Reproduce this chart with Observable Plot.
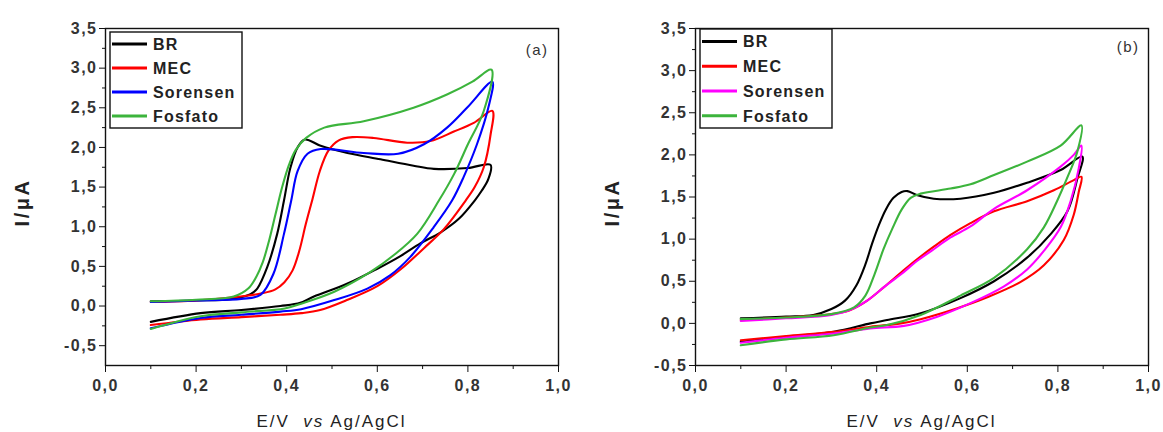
<!DOCTYPE html>
<html><head><meta charset="utf-8">
<script src="https://cdn.jsdelivr.net/npm/d3@7"></script>
<script src="https://cdn.jsdelivr.net/npm/@observablehq/plot@0.6"></script>
<style>
body{margin:0;background:#fff;}
#row{display:flex;width:1163px;height:432px;}
#row svg{display:block;}
</style></head><body><div id="row"></div>
<script>
// ---- data (E/V, I/µA) in scan order: forward then reverse ----
const seriesNames = ["BR", "MEC", "Sorensen", "Fosfato"];
const colorsA = ["#000000", "#ff0000", "#0000ff", "#3cb43c"];
const colorsB = ["#000000", "#ff0000", "#ff00ff", "#3cb43c"];
const xTicks = [0, 0.2, 0.4, 0.6, 0.8, 1.0];
const xMinor = [0.1, 0.3, 0.5, 0.7, 0.9];
const yTicks = [-0.5, 0, 0.5, 1.0, 1.5, 2.0, 2.5, 3.0, 3.5];
const yMinor = [-0.25, 0.25, 0.75, 1.25, 1.75, 2.25, 2.75, 3.25];
const panelLabels = ["(a)", "(b)"];

const aBR = [[0.10,0.06],[0.20,0.07],[0.28,0.09],[0.32,0.15],[0.335,0.22],[0.357,0.49],[0.379,0.91],[0.394,1.33],[0.408,1.74],[0.424,2.0],[0.44,2.1],[0.475,2.02],[0.534,1.93],[0.607,1.85],[0.68,1.77],[0.725,1.73],[0.80,1.74],[0.85,1.78],
  [0.845,1.6],[0.83,1.45],[0.815,1.33],[0.78,1.1],[0.74,0.93],[0.695,0.79],[0.651,0.63],[0.60,0.47],[0.533,0.28],[0.46,0.12],[0.43,0.04],[0.386,0.0],[0.30,-0.05],[0.21,-0.09],[0.10,-0.20]];
const aMEC = [[0.10,0.05],[0.20,0.07],[0.283,0.11],[0.345,0.16],[0.375,0.21],[0.395,0.30],[0.413,0.45],[0.428,0.70],[0.442,1.03],[0.457,1.35],[0.473,1.70],[0.492,1.96],[0.515,2.09],[0.545,2.13],[0.592,2.12],[0.666,2.06],[0.717,2.08],[0.769,2.2],[0.813,2.31],[0.854,2.46],
  [0.85,2.16],[0.835,1.75],[0.815,1.5],[0.795,1.33],[0.747,0.97],[0.703,0.73],[0.651,0.46],[0.60,0.25],[0.533,0.075],[0.474,-0.05],[0.432,-0.09],[0.386,-0.11],[0.30,-0.14],[0.21,-0.17],[0.10,-0.24]];
const aSor = [[0.10,0.05],[0.20,0.07],[0.30,0.09],[0.342,0.14],[0.371,0.41],[0.394,0.91],[0.41,1.33],[0.424,1.70],[0.446,1.92],[0.475,1.98],[0.57,1.93],[0.646,1.92],[0.703,2.04],[0.754,2.25],[0.798,2.5],[0.854,2.83],
  [0.845,2.5],[0.82,2.04],[0.79,1.62],[0.765,1.33],[0.724,0.99],[0.673,0.62],[0.629,0.39],[0.578,0.22],[0.505,0.075],[0.432,-0.04],[0.386,-0.07],[0.30,-0.11],[0.21,-0.15],[0.10,-0.28]];
const aFos = [[0.10,0.06],[0.20,0.08],[0.283,0.12],[0.315,0.22],[0.333,0.37],[0.347,0.55],[0.36,0.80],[0.375,1.15],[0.39,1.50],[0.405,1.78],[0.42,1.97],[0.443,2.12],[0.483,2.25],[0.57,2.33],[0.68,2.5],[0.755,2.67],[0.81,2.83],[0.852,2.98],
  [0.835,2.46],[0.80,2.04],[0.77,1.67],[0.736,1.33],[0.688,0.91],[0.636,0.64],[0.585,0.43],[0.505,0.18],[0.432,0.03],[0.396,-0.03],[0.30,-0.08],[0.21,-0.13],[0.10,-0.29]];

const bBR = [[0.10,0.06],[0.20,0.08],[0.26,0.10],[0.30,0.17],[0.33,0.27],[0.355,0.45],[0.375,0.70],[0.39,0.95],[0.405,1.17],[0.42,1.35],[0.437,1.49],[0.455,1.56],[0.468,1.57],[0.49,1.52],[0.526,1.48],[0.585,1.48],[0.659,1.55],[0.732,1.67],[0.806,1.82],[0.854,1.98],
  [0.843,1.72],[0.821,1.33],[0.784,1.06],[0.732,0.78],[0.659,0.50],[0.585,0.30],[0.497,0.12],[0.423,0.04],[0.386,0.0],[0.305,-0.10],[0.20,-0.16],[0.10,-0.22]];
const bMEC = [[0.10,0.04],[0.20,0.07],[0.30,0.11],[0.342,0.16],[0.379,0.27],[0.416,0.43],[0.453,0.60],[0.489,0.76],[0.526,0.91],[0.563,1.05],[0.607,1.19],[0.659,1.33],[0.732,1.45],[0.791,1.58],[0.835,1.70],[0.852,1.74],
  [0.846,1.56],[0.835,1.29],[0.813,0.99],[0.769,0.69],[0.717,0.49],[0.644,0.31],[0.578,0.18],[0.497,0.05],[0.453,0.0],[0.386,-0.04],[0.305,-0.10],[0.20,-0.15],[0.10,-0.20]];
const bSor = [[0.10,0.03],[0.20,0.06],[0.30,0.10],[0.342,0.16],[0.379,0.27],[0.416,0.43],[0.453,0.58],[0.489,0.74],[0.526,0.88],[0.563,1.02],[0.607,1.15],[0.659,1.36],[0.732,1.58],[0.806,1.86],[0.835,2.0],[0.852,2.11],
  [0.846,1.84],[0.828,1.45],[0.806,1.14],[0.769,0.86],[0.732,0.64],[0.681,0.44],[0.607,0.24],[0.534,0.08],[0.46,-0.03],[0.386,-0.06],[0.305,-0.12],[0.20,-0.17],[0.10,-0.23]];
const bFos = [[0.10,0.05],[0.20,0.07],[0.30,0.11],[0.35,0.19],[0.375,0.33],[0.395,0.58],[0.415,0.88],[0.435,1.13],[0.455,1.35],[0.475,1.49],[0.497,1.54],[0.563,1.60],[0.607,1.65],[0.659,1.76],[0.732,1.92],[0.806,2.11],[0.852,2.35],
  [0.843,2.04],[0.82,1.72],[0.798,1.45],[0.769,1.14],[0.732,0.88],[0.659,0.54],[0.585,0.33],[0.497,0.10],[0.423,-0.02],[0.386,-0.05],[0.305,-0.14],[0.20,-0.19],[0.10,-0.26]];

const panelsData = [[aBR, aMEC, aSor, aFos], [bBR, bMEC, bSor, bFos]];
const panelColors = [colorsA, colorsB];
const yDomains = [[-0.75, 3.5], [-0.5, 3.5]];

// ---- drawing ----
const FONT = '"Liberation Sans", Arial, Helvetica, sans-serif';
const fmt = d => d.toFixed(1).replace(".", ",");
const layout = [
  {width: 590, marginRight: 32, legendTop: 32, labelDx: -10, labelDy: 16},
  {width: 573, marginRight: 15, legendTop: 29, labelDx: -9, labelDy: 13}
];

panelsData.forEach((series, p) => {
  const L = layout[p];
  const marks = [
    Plot.axisX({ticks: xTicks, tickFormat: fmt, tickSize: 7, tickPadding: 7, label: null,
      fontSize: 16, fontWeight: "bold", fill: "#333", stroke: "#111"}),
    Plot.axisX({ticks: xMinor, tickFormat: () => "", tickSize: 4, label: null, stroke: "#111"}),
    Plot.axisY({ticks: yTicks.filter(t => t >= yDomains[p][0]), tickFormat: fmt, tickSize: 6, tickPadding: 2, label: null,
      fontSize: 16, fontWeight: "bold", fill: "#333", stroke: "#111"}),
    Plot.axisY({ticks: yMinor.filter(t => t > yDomains[p][0]), tickFormat: () => "", tickSize: 3, label: null, stroke: "#111"})
  ];
  series.forEach((pts, i) => {
    marks.push(Plot.line(pts, {x: d => d[0], y: d => d[1], stroke: panelColors[p][i], strokeWidth: 2.1, curve: "catmull-rom"}));
  });
  marks.push(Plot.frame({stroke: "#111", strokeWidth: 1.4}));
  marks.push(Plot.text([panelLabels[p]], {frameAnchor: "top-right", textAnchor: "end", dx: L.labelDx, dy: L.labelDy,
    fontSize: 15, fill: "#333"}));

  const chart = Plot.plot({
    width: L.width, height: 432,
    marginLeft: 105, marginRight: L.marginRight, marginTop: 28, marginBottom: 67,
    x: {domain: [0, 1]},
    y: {domain: yDomains[p]},
    style: {fontFamily: FONT, background: "white", color: "#111", letterSpacing: "1.5px", overflow: "visible"},
    marks
  });
  document.getElementById("row").appendChild(chart);

  const svg = d3.select(chart);
  const xs = chart.scale("x"), ys = chart.scale("y");
  // y axis label
  const yMid = (ys.apply(yDomains[p][0]) + ys.apply(yDomains[p][1])) / 2;
  svg.append("text")
    .attr("transform", `translate(29,${yMid + 6}) rotate(-90)`)
    .attr("text-anchor", "middle")
    .style("font-family", FONT).style("font-size", "20px").style("font-weight", "bold")
    .style("letter-spacing", "2.5px").attr("fill", "#222")
    .text("I/μA");
  // x axis label with italic "vs"
  const xMid = (xs.apply(0) + xs.apply(1)) / 2;
  const xl = svg.append("text")
    .attr("x", xMid).attr("y", 427).attr("text-anchor", "middle")
    .style("font-family", FONT).style("font-size", "17px")
    .style("letter-spacing", "2px").attr("fill", "#222");
  xl.append("tspan").text("E/V  ");
  xl.append("tspan").style("font-style", "italic").text("vs");
  xl.append("tspan").text(" Ag/AgCl");
  // legend box
  const lg = svg.append("g").attr("text-anchor", "start");
  lg.append("rect").attr("x", 110).attr("y", L.legendTop).attr("width", 132).attr("height", 128 - L.legendTop)
    .attr("fill", "white").attr("stroke", "#111").attr("stroke-width", 1.4);
  const step = (128 - L.legendTop) / 4;
  seriesNames.forEach((name, i) => {
    const cy = L.legendTop + step * (i + 0.5);
    lg.append("line").attr("x1", 112).attr("x2", 147).attr("y1", cy).attr("y2", cy)
      .attr("stroke", panelColors[p][i]).attr("stroke-width", 3);
    lg.append("text").attr("x", 153).attr("y", cy + 6).attr("text-anchor", "start")
      .style("font-family", FONT).style("font-size", "16px").style("font-weight", "bold")
      .style("letter-spacing", "1.2px").attr("fill", "#222").text(name);
  });
});
</script></body></html>
